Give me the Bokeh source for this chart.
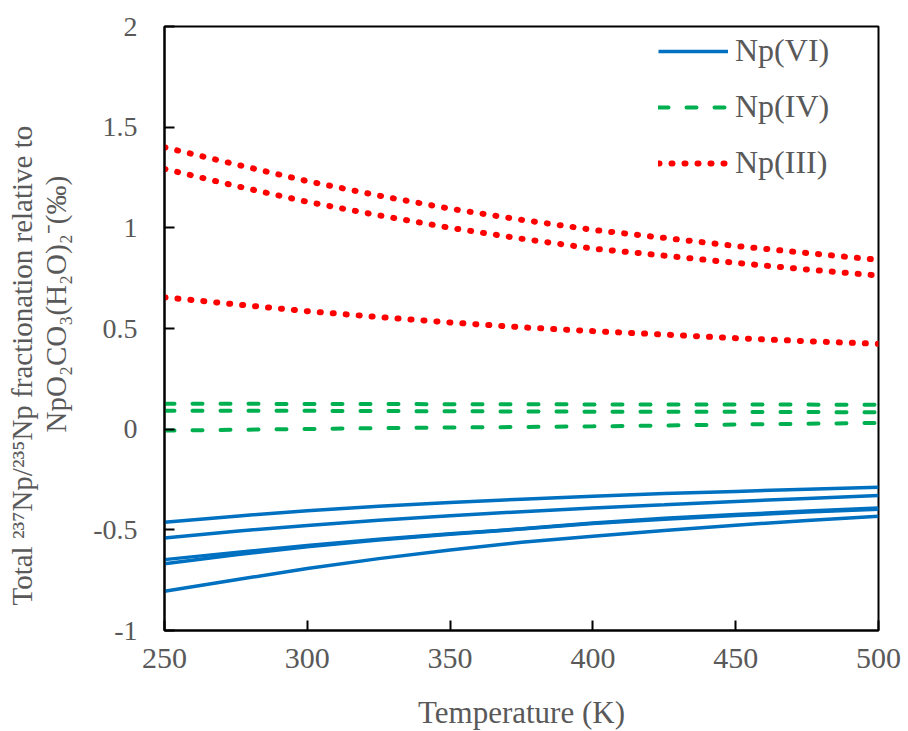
from bokeh.plotting import figure
from bokeh.models import FixedTicker, Legend, LegendItem, Title
from bokeh.embed import file_html
from bokeh.resources import INLINE

# Temperature grid (K)
temperature = [250, 275, 300, 325, 350, 375, 400, 425, 450, 475, 500]

# Np(VI) species, 237Np/235Np fractionation (permil)
np_vi_a = [-0.462, -0.432, -0.405, -0.383, -0.364, -0.348, -0.333, -0.320, -0.309, -0.298, -0.289]
np_vi_b = [-0.540, -0.507, -0.478, -0.452, -0.430, -0.410, -0.392, -0.376, -0.359, -0.344, -0.330]
np_vi_c = [-0.648, -0.612, -0.578, -0.547, -0.520, -0.495, -0.466, -0.443, -0.424, -0.407, -0.391]
np_vi_d = [-0.669, -0.624, -0.584, -0.551, -0.522, -0.496, -0.468, -0.447, -0.429, -0.412, -0.398]
np_vi_e = [-0.805, -0.748, -0.692, -0.643, -0.600, -0.562, -0.532, -0.503, -0.477, -0.454, -0.433]

# Np(IV) species
np_iv_a = [0.126, 0.126, 0.125, 0.125, 0.124, 0.124, 0.123, 0.123, 0.122, 0.122, 0.121]
np_iv_b = [0.092, 0.091, 0.091, 0.090, 0.089, 0.088, 0.087, 0.086, 0.086, 0.085, 0.084]
np_iv_c = [-0.007, -0.003, 0.001, 0.005, 0.008, 0.011, 0.014, 0.018, 0.023, 0.027, 0.031]

# Np(III) species
np_iii_a = [1.400, 1.315, 1.232, 1.160, 1.095, 1.040, 0.990, 0.950, 0.910, 0.875, 0.841]
np_iii_b = [1.293, 1.208, 1.129, 1.062, 1.000, 0.946, 0.897, 0.862, 0.826, 0.793, 0.763]
np_iii_c = [0.655, 0.620, 0.586, 0.557, 0.530, 0.506, 0.487, 0.470, 0.452, 0.437, 0.424]

x_ticks = [250, 300, 350, 400, 450, 500]
y_ticks = [-1, -0.5, 0, 0.5, 1, 1.5, 2]
y_tick_labels = ["-1", "-0.5", "0", "0.5", "1", "1.5", "2"]

series_labels = ["Np(VI)", "Np(IV)", "Np(III)"]
x_title = "Temperature (K)"
y_title_lines = [
    "Total \u00b2\u00b3\u2077Np/\u00b2\u00b3\u2075Np fractionation relative to",
    "NpO\u2082CO\u2083(H\u2082O)\u2082\u207b(\u2030)",
]

FONT = "Liberation Serif"
TEXT_GRAY = "#595959"
BLUE = "#0070C0"
GREEN = "#00B050"
RED = "#FF0000"

p = figure(
    frame_width=714, frame_height=604,
    x_range=(250, 500), y_range=(-1, 2),
    output_backend="svg", toolbar_location=None,
    min_border_left=164, min_border_right=30,
    min_border_top=26, min_border_bottom=101,
    background_fill_color="white", border_fill_color="white",
)

p.outline_line_color = "black"
p.outline_line_width = 2
p.xgrid.visible = False
p.ygrid.visible = False

for ax in (p.xaxis[0], p.yaxis[0]):
    ax.axis_line_color = "black"
    ax.axis_line_width = 2
    ax.major_tick_line_color = "black"
    ax.major_tick_line_width = 2
    ax.major_tick_in = 10
    ax.major_tick_out = 0
    ax.minor_tick_line_color = None
    ax.major_label_text_font = FONT
    ax.major_label_text_color = TEXT_GRAY

p.xaxis.ticker = FixedTicker(ticks=x_ticks)
p.xaxis.major_label_text_font_size = "30px"
p.xaxis.major_label_standoff = 18
p.xaxis.axis_label = x_title
p.xaxis.axis_label_text_font = FONT
p.xaxis.axis_label_text_font_size = "31px"
p.xaxis.axis_label_text_font_style = "normal"
p.xaxis.axis_label_text_color = TEXT_GRAY
p.xaxis.axis_label_standoff = 24

p.yaxis.ticker = FixedTicker(ticks=y_ticks)
p.yaxis.major_label_overrides = {t: s for t, s in zip(y_ticks, y_tick_labels)}
p.yaxis.major_label_text_font_size = "28px"
p.yaxis.major_label_standoff = 27
# blank axis label used only as a spacer between tick labels and the title lines
p.yaxis.axis_label = " "
p.yaxis.axis_label_text_font_size = "1px"
p.yaxis.axis_label_standoff = 15

# Two-line y title, each line its own panel beside the axis (inner line first);
# offset is the distance of each line's start above the frame bottom
for line, offset in ((y_title_lines[1], 198), (y_title_lines[0], 25)):
    p.add_layout(Title(
        text=line, align="left", standoff=0, offset=offset,
        text_font=FONT, text_font_size="29px", text_font_style="normal",
        text_color=TEXT_GRAY,
    ), "left")

vi_renderers = [
    p.line(temperature, s, line_color=BLUE, line_width=3.5)
    for s in (np_vi_a, np_vi_b, np_vi_c, np_vi_d, np_vi_e)
]
iv_renderers = [
    p.line(temperature, s, line_color=GREEN, line_width=4,
           line_dash="10 18", line_cap="round")
    for s in (np_iv_a, np_iv_b, np_iv_c)
]
iii_renderers = [
    p.line(temperature, s, line_color=RED, line_width=6,
           line_dash="1 12", line_cap="round")
    for s in (np_iii_a, np_iii_b, np_iii_c)
]

legend = Legend(
    items=[
        LegendItem(label=series_labels[0], renderers=[vi_renderers[0]]),
        LegendItem(label=series_labels[1], renderers=[iv_renderers[0]]),
        LegendItem(label=series_labels[2], renderers=[iii_renderers[0]]),
    ],
    location=(494, 449),
    glyph_width=70, glyph_height=30,
    label_height=30, label_standoff=7,
    spacing=19, padding=0, margin=0,
    label_text_font=FONT, label_text_font_size="32px",
    label_text_color=TEXT_GRAY,
    border_line_color=None, background_fill_alpha=0,
)
p.add_layout(legend)

open("out.html", "w").write(file_html(p, INLINE))
